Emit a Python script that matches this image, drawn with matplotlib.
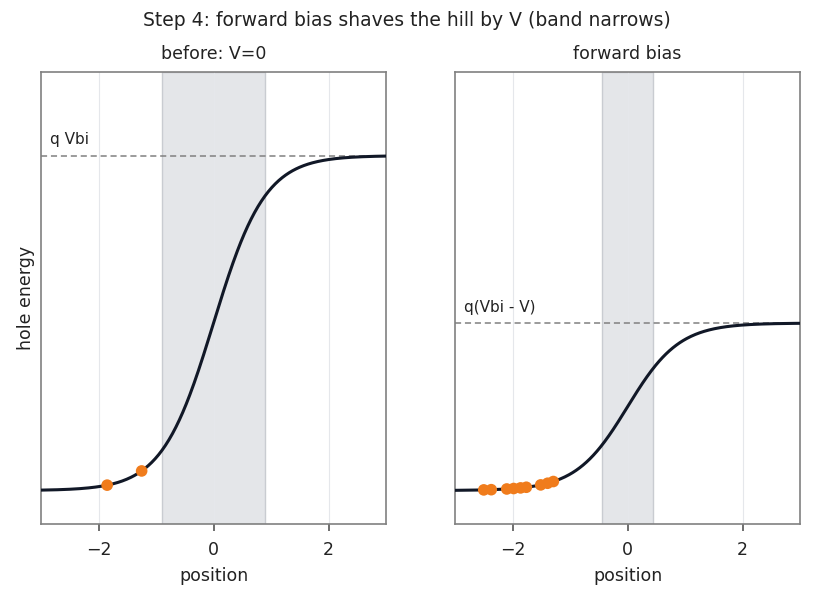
import numpy as np
import matplotlib.pyplot as plt

# band profile parameters (qVbi normalised to 1)
VBI = 1.0
V_FWD = 0.5
WIDTH = 0.9
DEP_HALF = [0.9, 0.45]

titles = ["before: V=0", "forward bias"]
level_labels = ["q Vbi", "q(Vbi - V)"]
levels = [VBI, VBI - V_FWD]

# hole positions sitting on the band
holes_left = [-1.85, -1.25]
holes_right = [-2.50, -2.37, -2.10, -1.98, -1.86, -1.76, -1.51, -1.39, -1.29]
holes = [holes_left, holes_right]

CURVE = "#111827"
ORANGE = "#f07c1c"
GREY = "#808080"


def band(x, top):
    return 0.5 * top * (1 + np.tanh(np.asarray(x) / WIDTH))


fig = plt.figure(figsize=(8.14, 5.98), dpi=100)
axes = [fig.add_axes([0.0504, 0.1237, 0.4238, 0.756]),
        fig.add_axes([0.559, 0.1237, 0.4238, 0.756])]

x = np.linspace(-3, 3, 400)
for ax, title, lab, top, hx, dh in zip(axes, titles, level_labels, levels, holes, DEP_HALF):
    ax.axvspan(-dh, dh, facecolor="#e4e6e9", edgecolor="#c9ccd1", lw=1, zorder=0)
    ax.axhline(top, color=GREY, ls=(0, (4, 2.5)), lw=1.1, zorder=1)
    ax.plot(x, band(x, top), color=CURVE, lw=2.2, zorder=3)
    ax.scatter(hx, band(hx, top), s=70, color=ORANGE, zorder=4, edgecolors="none")
    ax.text(-2.85, top + 0.025, lab, fontsize=11, color="#222222", va="bottom")
    ax.set_xlim(-3, 3)
    ax.set_ylim(-0.1, 1.25)
    ax.set_xticks([-2, 0, 2])
    ax.set_yticks([])
    ax.grid(axis="x", color="#e5e7eb", lw=0.8, zorder=0)
    ax.set_axisbelow(True)
    ax.tick_params(axis="x", labelsize=12.5, color="#555555", length=5, width=1.2,
                   pad=7, labelcolor="#222222")
    for sp in ax.spines.values():
        sp.set_color(GREY)
        sp.set_linewidth(1.2)
    ax.set_xlabel("position", fontsize=12.5, color="#222222", labelpad=6)
    ax.set_title(title, fontsize=12.5, pad=9, color="#222222")

axes[0].set_ylabel("hole energy", fontsize=12.5, color="#222222")
fig.suptitle("Step 4: forward bias shaves the hill by V (band narrows)",
             fontsize=13.5, y=0.982, color="#222222")

fig.savefig("out.png", dpi=100)
